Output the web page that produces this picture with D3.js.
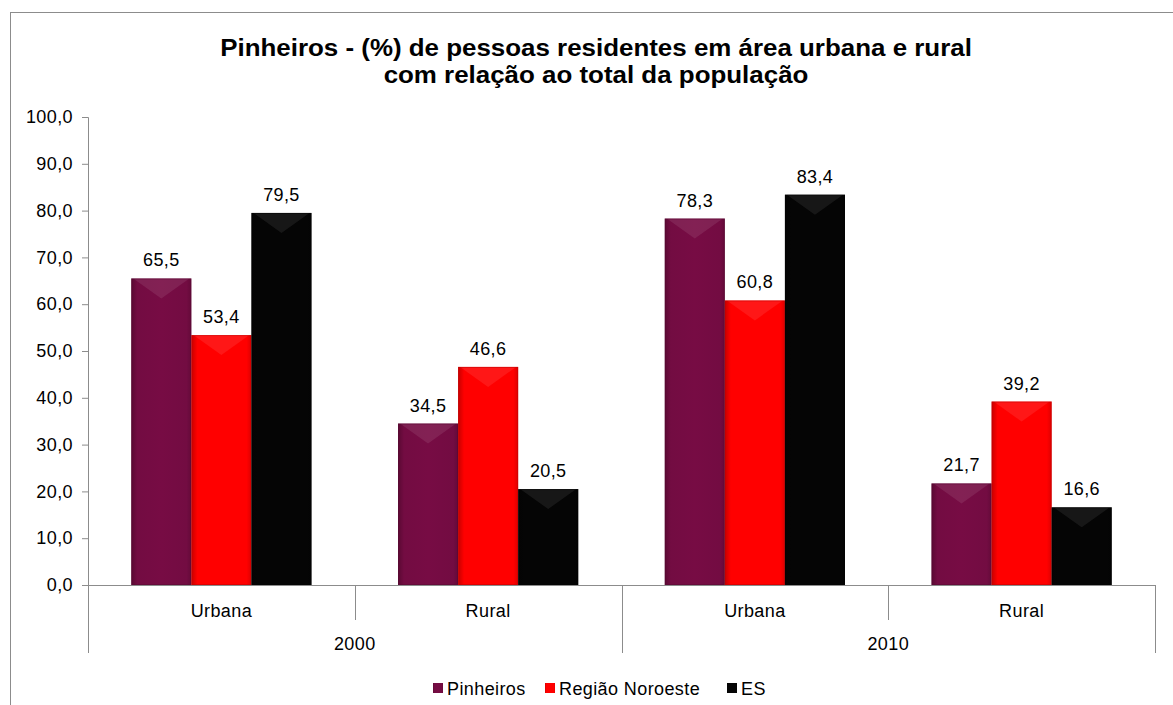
<!DOCTYPE html>
<html>
<head>
<meta charset="utf-8">
<script src="https://cdn.jsdelivr.net/npm/d3@7"></script>
<style>
  body { margin: 0; background: #fff; }
  svg { display: block; font-family: "Liberation Sans", Arial, sans-serif; }
</style>
</head>
<body>
<svg id="chart"></svg>
<script>
const years = ["2000", "2010"];
const areas = ["Urbana", "Rural"];
const seriesNames = ["Pinheiros", "Região Noroeste", "ES"];
const pinheiros = [65.5, 34.5, 78.3, 21.7];
const noroeste = [53.4, 46.6, 60.8, 39.2];
const es = [79.5, 20.5, 83.4, 16.6];
const yTicks = [0, 10, 20, 30, 40, 50, 60, 70, 80, 90, 100];
const titleLines = [
  "Pinheiros - (%) de pessoas residentes em área urbana e rural",
  "com relação ao total da população"
];

const width = 1173, height = 705;
const margin = { top: 117, right: 18, bottom: 120, left: 88 };
const colors = ["#730c42", "#ff0000", "#050505"];
const fs = 18, ls = 0.4;

const series = [pinheiros, noroeste, es];
const cats = years.flatMap((y) => areas.map((a) => y + "|" + a));
const data = cats.map((c, i) => ({
  key: c, year: c.split("|")[0], area: c.split("|")[1],
  values: series.map((s, j) => ({ name: seriesNames[j], v: s[i], j }))
}));

const svg = d3.select("#chart").attr("width", width).attr("height", height);

const defs = svg.append("defs");
colors.forEach((c, j) => {
  const g = defs.append("linearGradient").attr("id", "g" + j)
    .attr("x1", 0).attr("x2", 1).attr("y1", 0).attr("y2", 0);
  const base = d3.color(c);
  g.append("stop").attr("offset", "0%").attr("stop-color", base.darker(0.7));
  g.append("stop").attr("offset", "10%").attr("stop-color", base);
  g.append("stop").attr("offset", "50%").attr("stop-color", base.brighter(j === 2 ? 0 : 0.1));
  g.append("stop").attr("offset", "92%").attr("stop-color", base);
  g.append("stop").attr("offset", "100%").attr("stop-color", base.darker(0.4));
});

// outer frame
svg.append("rect")
  .attr("x", 10.5).attr("y", 12.5)
  .attr("width", 1200).attr("height", 720)
  .attr("fill", "none").attr("stroke", "#8c8c8c").attr("stroke-width", 1);

// title (reference text is slightly stretched horizontally)
svg.append("text")
  .attr("transform", "translate(596,56) scale(1.08,1)")
  .attr("text-anchor", "middle")
  .attr("font-weight", "bold").attr("font-size", 24)
  .selectAll("tspan")
  .data(titleLines)
  .join("tspan")
  .attr("x", 0)
  .attr("dy", (d, i) => (i ? 27 : 0))
  .text((d) => d);

const y = d3.scaleLinear().domain([0, 100]).range([height - margin.bottom, margin.top]);
const x0 = d3.scaleBand().domain(cats).range([margin.left, 1155]).padding(0);
const x1 = d3.scaleBand().domain(seriesNames).range([0, x0.bandwidth()])
  .paddingInner(0).paddingOuter(0.72);

const fmt = (v) => d3.format(".1f")(v).replace(".", ",");

// y axis
svg.append("g")
  .attr("transform", `translate(${margin.left},0)`)
  .call(d3.axisLeft(y).tickValues(yTicks).tickFormat(fmt).tickSize(6).tickPadding(9))
  .call((g) => g.selectAll("line, path").attr("stroke", "#8c8c8c"))
  .call((g) => g.selectAll("text").attr("font-size", fs).attr("fill", "#000")
    .attr("letter-spacing", ls)
    .attr("font-family", "Liberation Sans, Arial, sans-serif"));

// bars
const groups = svg.append("g").selectAll("g")
  .data(data).join("g")
  .attr("transform", (d) => `translate(${x0(d.key)},0)`);

const bar = groups.selectAll("g.bar")
  .data((d) => d.values).join("g").attr("class", "bar");

bar.append("rect")
  .attr("x", (d) => x1(d.name))
  .attr("y", (d) => y(d.v))
  .attr("width", x1.bandwidth())
  .attr("height", (d) => y(0) - y(d.v))
  .attr("fill", (d) => `url(#g${d.j})`);

// bevel at the top of each bar
bar.append("path")
  .attr("d", (d) => {
    const xl = x1(d.name), w = x1.bandwidth(), yt = y(d.v);
    const b = Math.min(20, (y(0) - yt) / 2);
    return `M${xl + 2},${yt}L${xl + w - 2},${yt}L${xl + w / 2},${yt + b}Z`;
  })
  .attr("fill", (d) => (d.j === 2 ? "#505050" : "#ffffff"))
  .attr("fill-opacity", (d) => (d.j === 2 ? 0.25 : 0.09));

bar.append("rect")
  .attr("x", (d) => x1(d.name) + 0.5)
  .attr("y", (d) => y(d.v) + 0.5)
  .attr("width", x1.bandwidth() - 1)
  .attr("height", (d) => y(0) - y(d.v) - 1)
  .attr("fill", "none")
  .attr("stroke", (d) => d3.color(colors[d.j]).darker(0.8))
  .attr("stroke-opacity", 0.5)
  .attr("stroke-width", 1);

// value labels
bar.append("text")
  .attr("x", (d) => x1(d.name) + x1.bandwidth() / 2)
  .attr("y", (d) => y(d.v) - 12)
  .attr("text-anchor", "middle")
  .attr("font-size", fs)
  .attr("letter-spacing", ls)
  .text((d) => fmt(d.v));

// x axis (two levels)
const axisY = y(0);
const ax = svg.append("g").attr("stroke", "#8c8c8c").attr("stroke-width", 1);
ax.append("line")
  .attr("x1", margin.left - 6).attr("x2", 1155)
  .attr("y1", axisY + 0.5).attr("y2", axisY + 0.5);
ax.selectAll("line.cat")
  .data(cats.concat(["end"]))
  .join("line").attr("class", "cat")
  .attr("x1", (d, i) => Math.round(i < cats.length ? x0(d) : x0.range()[1]) + 0.5)
  .attr("x2", (d, i) => Math.round(i < cats.length ? x0(d) : x0.range()[1]) + 0.5)
  .attr("y1", axisY)
  .attr("y2", (d, i) => (i % areas.length === 0 ? axisY + 68 : axisY + 35));

svg.append("g").selectAll("text")
  .data(data).join("text")
  .attr("x", (d) => x0(d.key) + x0.bandwidth() / 2)
  .attr("y", axisY + 32)
  .attr("text-anchor", "middle")
  .attr("font-size", fs)
  .attr("letter-spacing", ls)
  .text((d) => d.area);

svg.append("g").selectAll("text")
  .data(years).join("text")
  .attr("x", (d) => x0(d + "|" + areas[0]) + x0.bandwidth())
  .attr("y", axisY + 65)
  .attr("text-anchor", "middle")
  .attr("font-size", fs)
  .attr("letter-spacing", ls)
  .text((d) => d);

// legend
const legendItems = [
  { name: seriesNames[0], x: 433 },
  { name: seriesNames[1], x: 545 },
  { name: seriesNames[2], x: 727 }
];
const lg = svg.append("g").selectAll("g")
  .data(legendItems).join("g")
  .attr("transform", (d) => `translate(${d.x},683)`);
lg.append("rect")
  .attr("width", 10).attr("height", 10)
  .attr("fill", (d, i) => `url(#g${i})`);
lg.append("text")
  .attr("x", 14).attr("y", 11.5)
  .attr("font-size", fs)
  .attr("letter-spacing", ls)
  .text((d) => d.name);
</script>
</body>
</html>
